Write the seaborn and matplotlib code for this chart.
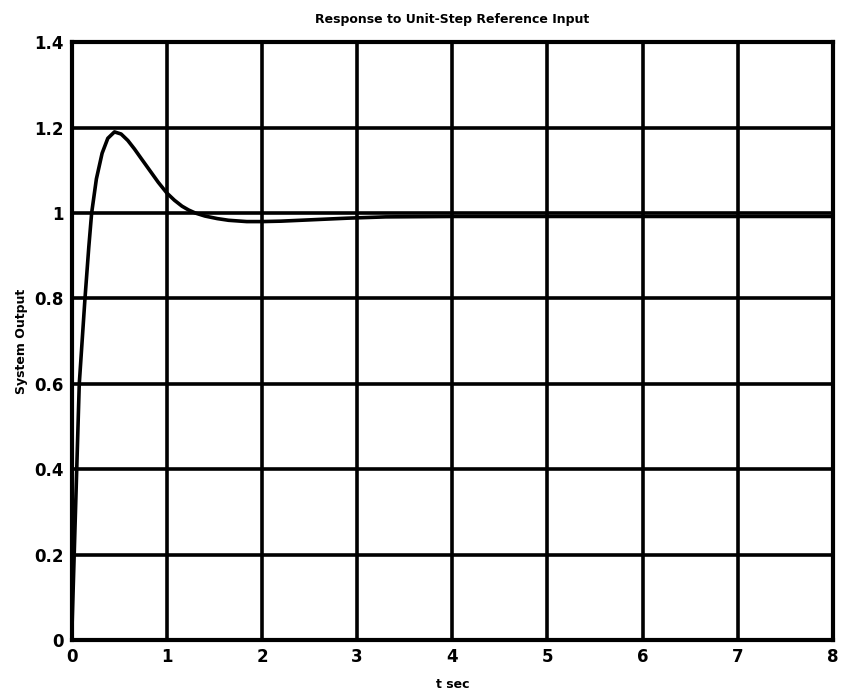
import matplotlib
matplotlib.use("Agg")
import matplotlib.pyplot as plt
import matplotlib.ticker as mticker
import seaborn as sns
import pandas as pd

# Values
t_sec = [0.0, 0.02, 0.04, 0.06, 0.08, 0.11, 0.14, 0.18, 0.21, 0.26, 0.32, 0.38,
         0.45, 0.52, 0.59, 0.66, 0.73, 0.82, 0.91, 1.0, 1.08, 1.16, 1.23, 1.3,
         1.4, 1.53, 1.65, 1.84, 2.0, 2.2, 2.5, 2.9, 3.3, 4.0, 5.0, 6.0, 7.0, 8.0]
y_out = [0.0, 0.15, 0.30, 0.45, 0.60, 0.70, 0.80, 0.92, 1.0, 1.08, 1.14, 1.175,
         1.19, 1.185, 1.17, 1.15, 1.128, 1.10, 1.072, 1.047, 1.03, 1.016, 1.007, 1.0,
         0.993, 0.987, 0.983, 0.980, 0.980, 0.981, 0.984, 0.988, 0.991, 0.992, 0.992, 0.992, 0.992, 0.992]

x_ticks = [0, 1, 2, 3, 4, 5, 6, 7, 8]
y_ticks = [0, 0.2, 0.4, 0.6, 0.8, 1.0, 1.2, 1.4]

title = "Response to Unit-Step Reference Input"
xlabel = "t sec"
ylabel = "System Output"

sns.set_theme(style="white")
plt.rcParams['font.family'] = ['DejaVu Sans']
plt.rcParams['text.color'] = 'black'
plt.rcParams['axes.labelcolor'] = 'black'

df = pd.DataFrame({"t": t_sec, "y": y_out})

fig = plt.figure(figsize=(8.43, 6.92), dpi=100)
ax = fig.add_axes([0.085, 0.075, 0.903, 0.864])

sns.lineplot(data=df, x="t", y="y", ax=ax, color="black", linewidth=2.6, zorder=3)

ax.set_xlim(0, 8)
ax.set_ylim(0, 1.4)
ax.set_xticks(x_ticks)
ax.set_yticks(y_ticks)
ax.xaxis.set_major_formatter(mticker.FormatStrFormatter('%g'))
ax.yaxis.set_major_formatter(mticker.FormatStrFormatter('%g'))
ax.grid(True, color="black", linewidth=2.6, linestyle="-")
ax.set_axisbelow(True)
for s in ax.spines.values():
    s.set_color("black")
    s.set_linewidth(3)
ax.tick_params(length=0, pad=6, labelsize=12, colors="black")
for lab in ax.get_xticklabels() + ax.get_yticklabels():
    lab.set_fontweight("bold")

ax.set_title(title, fontsize=9, fontweight="bold", pad=14, color="black")
ax.set_xlabel(xlabel, fontsize=9, fontweight="bold", labelpad=8, color="black")
ax.set_ylabel(ylabel, fontsize=9, fontweight="bold", labelpad=4, color="black")

fig.savefig("out.png", dpi=100, facecolor="white")
